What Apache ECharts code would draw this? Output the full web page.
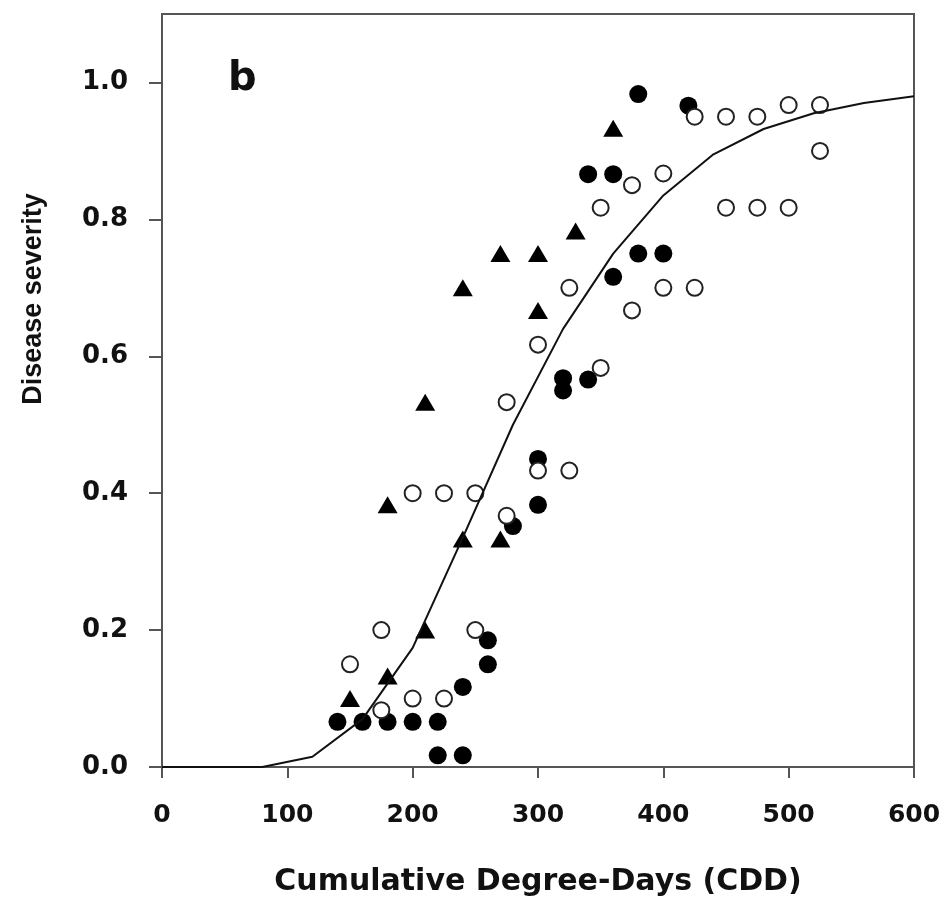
<!DOCTYPE html>
<html>
<head>
<meta charset="utf-8">
<script src="https://cdn.jsdelivr.net/npm/echarts@6/dist/echarts.min.js"></script>
<style>
  html, body { margin: 0; padding: 0; background: #fff; }
  #container { width: 950px; height: 909px; }
</style>
</head>
<body>
<div id="container"></div>
<script>
// observed points, [CDD, severity]
var filledPts = [
    [140, 0.066], [160, 0.066], [180, 0.066], [200, 0.066], [220, 0.066],
    [220, 0.017], [240, 0.017], [240, 0.117], [260, 0.185], [260, 0.15],
    [280, 0.352], [300, 0.383], [300, 0.45], [320, 0.568], [320, 0.55],
    [340, 0.566], [340, 0.866], [360, 0.866], [360, 0.716], [380, 0.75],
    [400, 0.75], [380, 0.983], [420, 0.966]
];
var openPts = [
    [150, 0.15], [175, 0.2], [175, 0.083], [200, 0.1], [225, 0.1], [250, 0.2],
    [200, 0.4], [225, 0.4], [250, 0.4],
    [275, 0.367], [275, 0.533], [300, 0.617], [300, 0.433], [325, 0.433], [350, 0.583],
    [325, 0.7], [350, 0.817], [375, 0.667], [375, 0.85], [400, 0.7], [400, 0.867], [425, 0.7],
    [425, 0.95], [450, 0.95], [475, 0.95], [500, 0.967], [525, 0.967], [525, 0.9],
    [450, 0.817], [475, 0.817], [500, 0.817]
];
var trianglePts = [
    [150, 0.1], [180, 0.133], [210, 0.2], [180, 0.383], [210, 0.533],
    [240, 0.333], [270, 0.333], [240, 0.7], [270, 0.75], [300, 0.75],
    [300, 0.667], [330, 0.783], [360, 0.933]
];

// fitted curve
var curveX = [0, 40, 80, 120, 160, 200, 240, 280, 320, 360, 400, 440, 480, 520, 560, 600];
var curveY = [0, 0, 0, 0.015, 0.07, 0.174, 0.335, 0.5, 0.64, 0.75, 0.835, 0.895, 0.932, 0.955, 0.97, 0.98];

var yTicks = [0, 0.2, 0.4, 0.6, 0.8, 1.0];

var curveData = curveX.map(function (x, i) { return [x, curveY[i]]; });

var myChart = echarts.init(document.getElementById('container'), null, { renderer: 'canvas' });

var axisColor = '#555';

var option = {
    animation: false,
    backgroundColor: '#fff',
    grid: {
        left: 162, right: 36, top: 14, bottom: 142,
        show: true, borderColor: axisColor, borderWidth: 2,
        outerBoundsMode: 'none'
    },
    graphic: [
        {
            type: 'text', x: 228, y: 60,
            style: { text: 'b', fill: '#111', font: 'bold 40px "DejaVu Sans"' }
        },
        {
            type: 'text', x: 34, y: 299, rotation: Math.PI / 2,
            style: {
                text: 'Disease severity', fill: '#111', font: 'bold 27px "Liberation Sans"',
                align: 'center', verticalAlign: 'middle'
            }
        }
    ],
    xAxis: {
        type: 'value', min: 0, max: 600, interval: 100,
        name: 'Cumulative Degree-Days (CDD)',
        nameLocation: 'middle', nameGap: 100,
        nameTextStyle: { fontFamily: 'DejaVu Sans', fontWeight: 'bold', fontSize: 30, color: '#111' },
        axisLine: { lineStyle: { color: axisColor, width: 2 } },
        axisTick: { inside: false, length: 11, lineStyle: { color: axisColor, width: 2 } },
        axisLabel: { margin: 36, fontFamily: 'DejaVu Sans', fontWeight: 'bold', fontSize: 25, color: '#111' },
        splitLine: { show: false }
    },
    yAxis: {
        type: 'value', min: 0, max: 1.1,
        axisLine: { lineStyle: { color: axisColor, width: 2 } },
        axisTick: { inside: false, length: 13, customValues: yTicks, lineStyle: { color: axisColor, width: 2 } },
        axisLabel: {
            margin: 34, customValues: yTicks,
            fontFamily: 'DejaVu Sans', fontWeight: 'bold', fontSize: 26, color: '#111',
            formatter: function (v) { return v.toFixed(1); }
        },
        splitLine: { show: false }
    },
    series: [
        {
            type: 'scatter', data: trianglePts, symbol: 'triangle', symbolSize: [20, 17],
            itemStyle: { color: '#000', opacity: 1 }, z: 2
        },
        {
            type: 'scatter', data: filledPts, symbol: 'circle', symbolSize: 18,
            itemStyle: { color: '#000', opacity: 1 }, z: 3
        },
        {
            type: 'scatter', data: openPts, symbol: 'circle', symbolSize: 16,
            itemStyle: { color: '#fff', borderColor: '#222', borderWidth: 2, opacity: 1 }, z: 4
        },
        {
            type: 'line', data: curveData, showSymbol: false, smooth: false,
            lineStyle: { color: '#111', width: 2 }, z: 5
        }
    ]
};

myChart.setOption(option);
window.addEventListener('resize', myChart.resize);
</script>
</body>
</html>
